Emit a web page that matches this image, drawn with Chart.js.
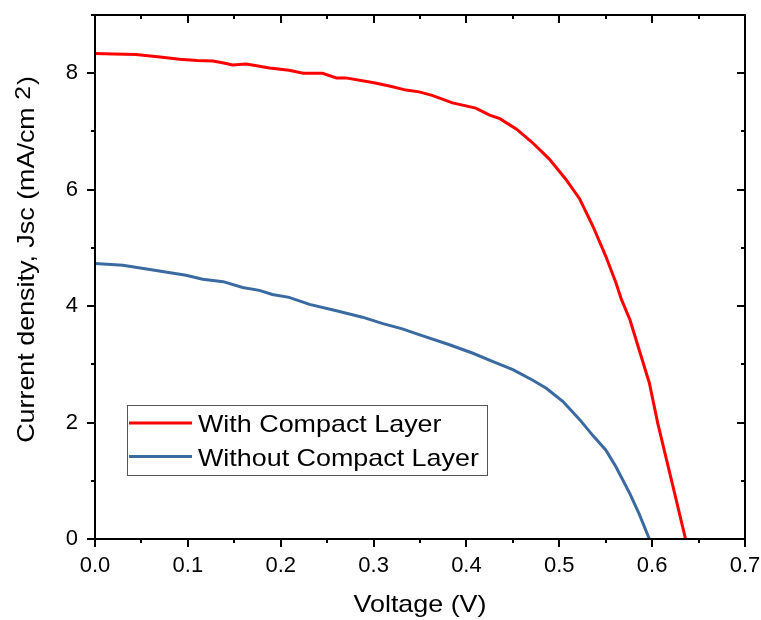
<!DOCTYPE html>
<html>
<head>
<meta charset="utf-8">
<script src="https://cdn.jsdelivr.net/npm/chart.js@4/dist/chart.umd.min.js"></script>
<style>
  html, body { margin: 0; padding: 0; background: #fff; }
  #wrap { width: 761px; height: 620px; }
</style>
</head>
<body>
<div id="wrap"><canvas id="myChart" width="761" height="620"></canvas></div>
<script>
// voltage (V) and current density (mA/cm2)
var voltWith = [0, 0.02, 0.044, 0.07, 0.091, 0.11, 0.127, 0.14, 0.148, 0.163, 0.188, 0.209, 0.224, 0.245,
    0.26, 0.27, 0.299, 0.317, 0.335, 0.349, 0.363, 0.385, 0.41, 0.425, 0.436, 0.454, 0.471, 0.489,
    0.507, 0.522, 0.536, 0.55, 0.561, 0.567, 0.576, 0.586, 0.597, 0.606, 0.621, 0.636];
var jscWith = [8.34, 8.33, 8.32, 8.28, 8.24, 8.22, 8.21, 8.17, 8.14, 8.16, 8.09, 8.05, 8.00, 8.00,
    7.92, 7.92, 7.84, 7.78, 7.71, 7.68, 7.62, 7.49, 7.40, 7.28, 7.22, 7.04, 6.81, 6.53,
    6.18, 5.84, 5.38, 4.86, 4.40, 4.11, 3.77, 3.25, 2.68, 1.99, 1.00, 0];

var voltWithout = [0, 0.03, 0.059, 0.098, 0.116, 0.138, 0.159, 0.177, 0.191, 0.209, 0.231, 0.26, 0.288,
    0.31, 0.331, 0.349, 0.381, 0.407, 0.428, 0.45, 0.471, 0.486, 0.504, 0.522, 0.536, 0.55, 0.561,
    0.576, 0.586, 0.597];
var jscWithout = [4.73, 4.70, 4.63, 4.53, 4.46, 4.42, 4.32, 4.27, 4.20, 4.15, 4.03, 3.92, 3.81,
    3.70, 3.61, 3.51, 3.34, 3.19, 3.05, 2.91, 2.73, 2.59, 2.36, 2.05, 1.78, 1.53, 1.24,
    0.78, 0.43, 0];

var seriesNames = ['With Compact Layer', 'Without Compact Layer'];
var xTicks = [0, 0.1, 0.2, 0.3, 0.4, 0.5, 0.6, 0.7];
var yTicks = [0, 2, 4, 6, 8];
var xTitle = 'Voltage (V)';

var fuente = "'Liberation Sans', Arial, sans-serif";
var ancho = 1.12; // the original text is a bit wider than Liberation Sans

function puntos(xs, ys) {
    var arr = [];
    for (var i = 0; i < xs.length; i++) {
        arr.push({ x: xs[i], y: ys[i] });
    }
    return arr;
}

function texto(ctx, t, x, y, size) {
    ctx.save();
    ctx.translate(x, y);
    ctx.scale(ancho, 1);
    ctx.font = size + 'px ' + fuente;
    ctx.fillText(t, 0, 0);
    ctx.restore();
    ctx.font = size + 'px ' + fuente;
    return ctx.measureText(t).width * ancho;
}

function medir(ctx, t, size) {
    ctx.font = size + 'px ' + fuente;
    return ctx.measureText(t).width * ancho;
}

// frame, ticks (outward on bottom/left, inward on top/right) and axis titles
var marco = {
    id: 'marco',
    afterDraw: function(chart) {
        var ctx = chart.ctx;
        var a = chart.chartArea;
        var sx = chart.scales.x, sy = chart.scales.y;
        ctx.save();
        ctx.strokeStyle = '#000';
        ctx.lineWidth = 2;
        ctx.strokeRect(a.left, a.top, a.right - a.left, a.bottom - a.top);
        ctx.beginPath();
        for (var i = 0; i < xTicks.length; i++) {
            var px = Math.round(sx.getPixelForValue(xTicks[i]));
            ctx.moveTo(px, a.bottom); ctx.lineTo(px, a.bottom + 8);
            ctx.moveTo(px, a.top); ctx.lineTo(px, a.top + 8);
            if (i < xTicks.length - 1) {
                var pm = Math.round(sx.getPixelForValue((xTicks[i] + xTicks[i + 1]) / 2));
                ctx.moveTo(pm, a.bottom); ctx.lineTo(pm, a.bottom + 4);
                ctx.moveTo(pm, a.top); ctx.lineTo(pm, a.top + 4);
            }
        }
        for (var j = 0; j < yTicks.length; j++) {
            var py = Math.round(sy.getPixelForValue(yTicks[j]));
            ctx.moveTo(a.left, py); ctx.lineTo(a.left - 8, py);
            ctx.moveTo(a.right, py); ctx.lineTo(a.right - 8, py);
            var ym = Math.round(sy.getPixelForValue(yTicks[j] + 1));
            ctx.moveTo(a.left, ym); ctx.lineTo(a.left - 4, ym);
            ctx.moveTo(a.right, ym); ctx.lineTo(a.right - 4, ym);
        }
        ctx.stroke();

        ctx.fillStyle = '#000';
        ctx.textBaseline = 'alphabetic';
        ctx.textAlign = 'left';

        // x title
        var wx = medir(ctx, xTitle, 24);
        texto(ctx, xTitle, (a.left + a.right) / 2 - wx / 2, 612, 24);

        // y title with superscript
        ctx.save();
        ctx.translate(33.5, 260);
        ctx.rotate(-Math.PI / 2);
        var t1 = 'Current density, Jsc (mA/cm ';
        var w1 = medir(ctx, t1, 24);
        var w2 = medir(ctx, '2', 22);
        var w3 = medir(ctx, ')', 24);
        var x0 = -(w1 + w2 + w3) / 2;
        texto(ctx, t1, x0, 0, 24);
        texto(ctx, '2', x0 + w1, -4, 22);
        texto(ctx, ')', x0 + w1 + w2 + 1, 0, 24);
        ctx.restore();
        ctx.restore();
    }
};

// legend box inside the plot
var leyenda = {
    id: 'leyenda',
    afterDraw: function(chart) {
        var ctx = chart.ctx;
        ctx.save();
        ctx.fillStyle = '#fff';
        ctx.fillRect(127, 405, 360, 70);
        ctx.strokeStyle = '#555';
        ctx.lineWidth = 1;
        ctx.strokeRect(127.5, 405.5, 360, 70);
        ctx.textBaseline = 'alphabetic';
        chart.data.datasets.forEach(function(ds, i) {
            var y = 423 + i * 33.5;
            ctx.strokeStyle = ds.borderColor;
            ctx.lineWidth = 3;
            ctx.beginPath();
            ctx.moveTo(129, y); ctx.lineTo(192, y);
            ctx.stroke();
            ctx.fillStyle = '#000';
            texto(ctx, ds.label, 198, y + 9, 24);
        });
        ctx.restore();
    }
};

var canvas = document.getElementById('myChart').getContext('2d');
var chart = new Chart(canvas, {
    type: 'line',
    data: {
        datasets: [{
            label: seriesNames[0],
            data: puntos(voltWith, jscWith),
            borderColor: '#ff0000',
            borderWidth: 3,
            pointRadius: 0,
            tension: 0,
            fill: false
        }, {
            label: seriesNames[1],
            data: puntos(voltWithout, jscWithout),
            borderColor: '#3a6aa0',
            borderWidth: 3,
            pointRadius: 0,
            tension: 0,
            fill: false
        }]
    },
    options: {
        responsive: false,
        animation: false,
        layout: { padding: { top: 15, right: 16, left: 0, bottom: 0 } },
        plugins: {
            legend: { display: false },
            tooltip: { enabled: false }
        },
        scales: {
            x: {
                type: 'linear',
                min: 0,
                max: 0.7,
                afterBuildTicks: function(scale) {
                    scale.ticks = xTicks.map(function(v) { return { value: v }; });
                },
                afterFit: function(scale) {
                    scale.height = 81;
                    scale.paddingLeft = 0;
                    scale.paddingRight = 0;
                },
                grid: { display: false, drawTicks: false },
                border: { display: false },
                ticks: {
                    font: { family: fuente, size: 22 },
                    color: '#000',
                    padding: 14,
                    maxRotation: 0,
                    callback: function(v) { return v.toFixed(1); }
                }
            },
            y: {
                type: 'linear',
                min: 0,
                max: 9,
                afterBuildTicks: function(scale) {
                    scale.ticks = yTicks.map(function(v) { return { value: v }; });
                },
                afterFit: function(scale) {
                    scale.width = 95;
                    scale.paddingTop = 0;
                    scale.paddingBottom = 0;
                },
                grid: { display: false, drawTicks: false },
                border: { display: false },
                ticks: {
                    font: { family: fuente, size: 22 },
                    color: '#000',
                    padding: 17
                }
            }
        }
    },
    plugins: [marco, leyenda]
});
</script>
</body>
</html>
